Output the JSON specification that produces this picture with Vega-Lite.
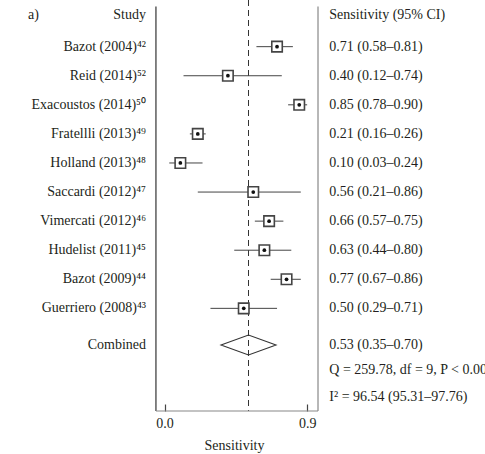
{
  "$schema": "https://vega.github.io/schema/vega-lite/v6.json",
  "width": 485,
  "height": 411,
  "autosize": {"type": "none"},
  "padding": {"left": 0, "top": 0, "right": 0, "bottom": 43},
  "background": "white",
  "config": {
    "view": {"stroke": null},
    "font": "Liberation Serif",
    "text": {"font": "Liberation Serif", "fontSize": 14, "color": "#231f20", "baseline": "middle"},
    "axisX": {
      "domain": false,
      "grid": false,
      "tickSize": -7,
      "tickColor": "#444",
      "tickWidth": 1.2,
      "labelFont": "Liberation Serif",
      "labelFontSize": 14,
      "labelColor": "#231f20",
      "labelPadding": 12,
      "titleFont": "Liberation Serif",
      "titleFontSize": 14,
      "titleFontWeight": "normal",
      "titleColor": "#231f20",
      "titlePadding": 8,
      "titleX": 234
    }
  },
  "datasets": {
    "rows": [
      {"kind": "header", "row": -0.09, "label": "Study", "ci": "Sensitivity (95% CI)"},
      {"kind": "study", "row": 1, "label": "Bazot (2004)⁴²", "est": 0.71, "lo": 0.58, "hi": 0.81, "ci": "0.71 (0.58–0.81)"},
      {"kind": "study", "row": 2, "label": "Reid (2014)⁵²", "est": 0.40, "lo": 0.12, "hi": 0.74, "ci": "0.40 (0.12–0.74)"},
      {"kind": "study", "row": 3, "label": "Exacoustos (2014)⁵⁰", "est": 0.85, "lo": 0.78, "hi": 0.90, "ci": "0.85 (0.78–0.90)"},
      {"kind": "study", "row": 4, "label": "Fratellli (2013)⁴⁹", "est": 0.21, "lo": 0.16, "hi": 0.26, "ci": "0.21 (0.16–0.26)"},
      {"kind": "study", "row": 5, "label": "Holland (2013)⁴⁸", "est": 0.10, "lo": 0.03, "hi": 0.24, "ci": "0.10 (0.03–0.24)"},
      {"kind": "study", "row": 6, "label": "Saccardi (2012)⁴⁷", "est": 0.56, "lo": 0.21, "hi": 0.86, "ci": "0.56 (0.21–0.86)"},
      {"kind": "study", "row": 7, "label": "Vimercati (2012)⁴⁶", "est": 0.66, "lo": 0.57, "hi": 0.75, "ci": "0.66 (0.57–0.75)"},
      {"kind": "study", "row": 8, "label": "Hudelist (2011)⁴⁵", "est": 0.63, "lo": 0.44, "hi": 0.80, "ci": "0.63 (0.44–0.80)"},
      {"kind": "study", "row": 9, "label": "Bazot (2009)⁴⁴", "est": 0.77, "lo": 0.67, "hi": 0.86, "ci": "0.77 (0.67–0.86)"},
      {"kind": "study", "row": 10, "label": "Guerriero (2008)⁴³", "est": 0.50, "lo": 0.29, "hi": 0.71, "ci": "0.50 (0.29–0.71)"},
      {"kind": "combined", "row": 11.26, "label": "Combined", "est": 0.53, "lo": 0.35, "hi": 0.70, "ci": "0.53 (0.35–0.70)"},
      {"kind": "stat", "row": 12.12, "label": "", "ci": "Q = 259.78, df = 9, P < 0.001"},
      {"kind": "stat", "row": 13.04, "label": "", "ci": "I² = 96.54 (95.31–97.76)"}
    ]
  },
  "data": {"name": "rows"},
  "layer": [
    {
      "transform": [{"filter": "datum.kind === 'combined'"}],
      "mark": {"type": "rule", "strokeDash": [6, 4], "color": "#333", "strokeWidth": 1},
      "encoding": {
        "x": {"field": "est", "type": "quantitative", "scale": {"domain": [-1.0379, 2.0221], "nice": false, "zero": false},
              "axis": {"values": [0, 0.9], "format": ".1f", "title": "Sensitivity"}},
        "y": {"datum": -0.605, "type": "quantitative", "scale": {"domain": [-0.605, 13.53], "nice": false, "zero": false, "reverse": true}, "axis": null},
        "y2": {"datum": 13.53}
      }
    },
    {
      "transform": [{"filter": "datum.kind === 'combined'"}],
      "mark": {"type": "rule", "color": "#333", "strokeWidth": 1.2},
      "encoding": {
        "x": {"datum": -0.054, "type": "quantitative", "axis": {"values": [0, 0.9], "format": ".1f", "title": "Sensitivity"}},
        "y": {"datum": -0.38, "type": "quantitative", "axis": null},
        "y2": {"datum": 13.53}
      }
    },
    {
      "transform": [{"filter": "datum.kind === 'combined'"}],
      "mark": {"type": "rule", "color": "#888", "strokeWidth": 1.2},
      "encoding": {
        "x": {"datum": 0.9685, "type": "quantitative", "axis": {"values": [0, 0.9], "format": ".1f", "title": "Sensitivity"}},
        "y": {"datum": -0.38, "type": "quantitative", "axis": null},
        "y2": {"datum": 13.53}
      }
    },
    {
      "transform": [{"filter": "datum.kind === 'combined'"}],
      "mark": {"type": "rule", "color": "#888", "strokeWidth": 1.2},
      "encoding": {
        "x": {"datum": -0.054, "type": "quantitative", "axis": {"values": [0, 0.9], "format": ".1f", "title": "Sensitivity"}},
        "x2": {"datum": 0.9685},
        "y": {"datum": 13.53, "type": "quantitative", "axis": null}
      }
    },
    {
      "transform": [{"filter": "datum.kind === 'study'"}],
      "mark": {"type": "rule", "color": "#444", "strokeWidth": 1},
      "encoding": {
        "x": {"field": "lo", "type": "quantitative", "axis": {"values": [0, 0.9], "format": ".1f", "title": "Sensitivity"}},
        "x2": {"field": "hi"},
        "y": {"field": "row", "type": "quantitative", "axis": null}
      }
    },
    {
      "transform": [{"filter": "datum.kind === 'study'"}],
      "mark": {"type": "point", "shape": "square", "size": 110, "filled": true, "fill": "white", "stroke": "#444", "strokeWidth": 1.6, "opacity": 1},
      "encoding": {
        "x": {"field": "est", "type": "quantitative", "axis": {"values": [0, 0.9], "format": ".1f", "title": "Sensitivity"}},
        "y": {"field": "row", "type": "quantitative", "axis": null}
      }
    },
    {
      "transform": [{"filter": "datum.kind === 'study'"}],
      "mark": {"type": "point", "shape": "circle", "size": 14, "filled": true, "color": "#111", "opacity": 1},
      "encoding": {
        "x": {"field": "est", "type": "quantitative", "axis": {"values": [0, 0.9], "format": ".1f", "title": "Sensitivity"}},
        "y": {"field": "row", "type": "quantitative", "axis": null}
      }
    },
    {
      "transform": [{"filter": "datum.kind === 'combined'"}],
      "mark": {"type": "point", "shape": "M -1 0 L 0 -0.364 L 1 0 L 0 0.364 Z", "size": 3025, "filled": false, "stroke": "#333", "strokeWidth": 1.1, "opacity": 1},
      "encoding": {
        "x": {"field": "est", "type": "quantitative", "axis": {"values": [0, 0.9], "format": ".1f", "title": "Sensitivity"}},
        "y": {"field": "row", "type": "quantitative", "axis": null}
      }
    },
    {
      "mark": {"type": "text", "align": "right"},
      "encoding": {
        "x": {"datum": -0.1167, "type": "quantitative", "axis": {"values": [0, 0.9], "format": ".1f", "title": "Sensitivity"}},
        "y": {"field": "row", "type": "quantitative", "axis": null},
        "text": {"field": "label"}
      }
    },
    {
      "mark": {"type": "text", "align": "left"},
      "encoding": {
        "x": {"datum": 1.0397, "type": "quantitative", "axis": {"values": [0, 0.9], "format": ".1f", "title": "Sensitivity"}},
        "y": {"field": "row", "type": "quantitative", "axis": null},
        "text": {"field": "ci"}
      }
    },
    {
      "transform": [{"filter": "datum.kind === 'header'"}],
      "mark": {"type": "text", "align": "left"},
      "encoding": {
        "x": {"datum": -0.861, "type": "quantitative", "axis": {"values": [0, 0.9], "format": ".1f", "title": "Sensitivity"}},
        "y": {"field": "row", "type": "quantitative", "axis": null},
        "text": {"value": "a)"}
      }
    }
  ]
}
